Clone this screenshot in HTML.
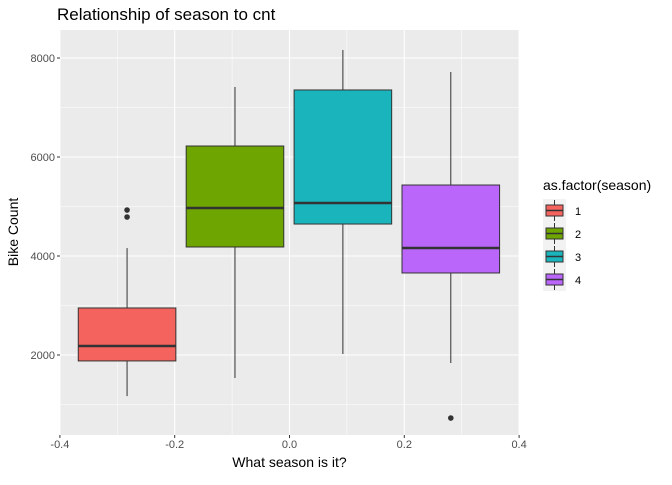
<!DOCTYPE html>
<html><head><meta charset="utf-8"><style>
body{margin:0;background:#fff;font-family:"Liberation Sans",Arial,sans-serif}
</style></head><body>
<svg id="chart" width="672" height="480" xmlns="http://www.w3.org/2000/svg"></svg>
<script>
const seasons=["1","2","3","4"];
const colors=["#F5635F","#6EA500","#1AB5BC","#BB66FB"];
const xCenters=[-0.283,-0.095,0.093,0.281];
const boxWidth=0.17;
const mins=[1170,1535,2020,1838];
const q1s=[1880,4182,4646,3657];
const medians=[2182,4970,5071,4162];
const q3s=[2950,6222,7354,5434];
const maxs=[4160,7414,8162,7717];
const outliers=[[4929,4788],[],[],[727]];
const yTicks=[2000,4000,6000,8000];
const xTicks=[-0.4,-0.2,0,0.2,0.4];
const xTickLabels=["-0.4","-0.2","0.0","0.2","0.4"];

const svg=document.getElementById('chart');
const NS="http://www.w3.org/2000/svg";
const PL=60,PR=519,PT=30,PB=435;
const sx=v=>289.5+v*574;
const sy=v=>454-v*0.0495;
function mk(tag,attrs,parent){const e=document.createElementNS(NS,tag);for(const k in attrs)e.setAttribute(k,attrs[k]);(parent||svg).appendChild(e);return e;}

const panel=mk('rect',{x:PL,y:PT,width:PR-PL,height:PB-PT,fill:'#EBEBEB'});


const grid=mk('g',{});


for(let v=1000;v<=9000;v+=2000){const y=sy(v);if(y>PT&&y<PB)mk('line',{x1:PL,x2:PR,y1:y,y2:y,stroke:'#fff','stroke-width':0.5},grid);}
for(let v=-0.3;v<0.4;v+=0.2){mk('line',{x1:sx(v),x2:sx(v),y1:PT,y2:PB,stroke:'#fff','stroke-width':0.5},grid);}
yTicks.forEach(v=>mk('line',{x1:PL,x2:PR,y1:sy(v),y2:sy(v),stroke:'#fff','stroke-width':1.1},grid));
xTicks.forEach(v=>mk('line',{x1:sx(v),x2:sx(v),y1:PT,y2:PB,stroke:'#fff','stroke-width':1.1},grid));

seasons.forEach((s,i)=>{
  const g=mk('g',{});
  
  
  const cx=sx(xCenters[i]),x0=sx(xCenters[i]-boxWidth/2),x1=sx(xCenters[i]+boxWidth/2);
  mk('line',{x1:cx,x2:cx,y1:sy(maxs[i]),y2:sy(q3s[i]),stroke:'#333','stroke-width':1},g);
  mk('line',{x1:cx,x2:cx,y1:sy(q1s[i]),y2:sy(mins[i]),stroke:'#333','stroke-width':1},g);
  mk('rect',{x:x0,y:sy(q3s[i]),width:x1-x0,height:sy(q1s[i])-sy(q3s[i]),fill:colors[i],stroke:'#333','stroke-width':1},g);
  mk('line',{x1:x0,x2:x1,y1:sy(medians[i]),y2:sy(medians[i]),stroke:'#333','stroke-width':2.5},g);
  outliers[i].forEach(o=>{const c=mk('circle',{cx:cx,cy:sy(o),r:2.8,fill:'#333'},g);
    
    });
});

const ax=mk('g',{'font-size':11,fill:'#4D4D4D'});


yTicks.forEach(v=>{mk('line',{x1:PL-3,x2:PL,y1:sy(v),y2:sy(v),stroke:'#333'},ax);
  const t=mk('text',{x:PL-5,y:sy(v)+4,'text-anchor':'end'},ax);t.textContent=v;});
xTicks.forEach((v,i)=>{mk('line',{x1:sx(v),x2:sx(v),y1:PB,y2:PB+3,stroke:'#333'},ax);
  const t=mk('text',{x:sx(v),y:PB+13,'text-anchor':'middle'},ax);t.textContent=xTickLabels[i];});

const title=mk('text',{x:57,y:20,'font-size':17,fill:'#000'});title.textContent='Relationship of season to cnt';


const xt=mk('text',{x:289.5,y:467,'font-size':14,fill:'#000','text-anchor':'middle'});xt.textContent='What season is it?';


const yt=mk('text',{x:0,y:0,'font-size':14,fill:'#000','text-anchor':'middle',transform:'translate(18,232) rotate(-90)'});yt.textContent='Bike Count';



const lg=mk('g',{});


const lt=mk('text',{x:543,y:190,'font-size':14,fill:'#000'},lg);lt.textContent='as.factor(season)';
seasons.forEach((s,i)=>{
  const e=mk('g',{},lg);
  
  
  const y=199+i*23;
  mk('rect',{x:543,y:y,width:23,height:23,fill:'#F2F2F2'},e);
  mk('line',{x1:554.5,x2:554.5,y1:y+1,y2:y+22,stroke:'#333'},e);
  mk('rect',{x:546,y:y+6,width:17,height:11,fill:colors[i],stroke:'#333'},e);
  mk('line',{x1:546,x2:563,y1:y+11.5,y2:y+11.5,stroke:'#333','stroke-width':1.5},e);
  const t=mk('text',{x:575,y:y+16,'font-size':11,fill:'#000'},e);t.textContent=s;
});
</script>
</body></html>
